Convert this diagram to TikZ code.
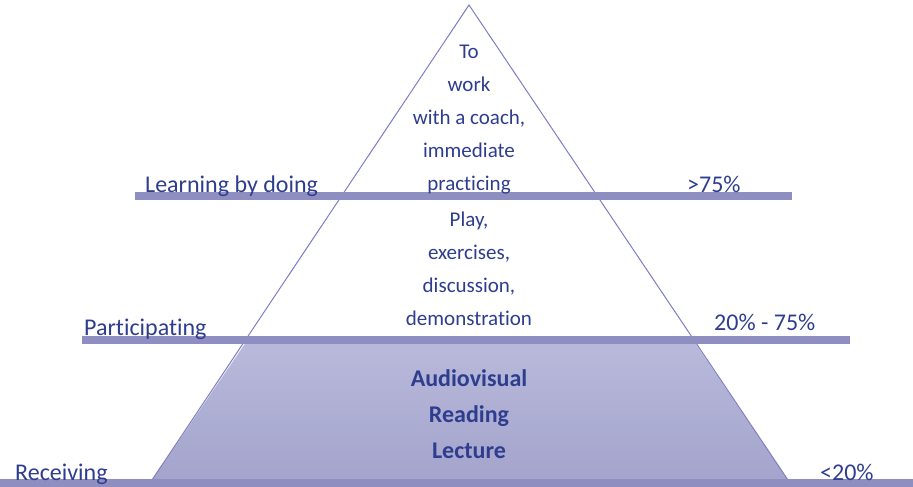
\documentclass[tikz,border=0pt]{standalone}
\usepackage{fontspec}
\setmainfont[Ligatures=NoCommon]{Carlito}
\definecolor{txt}{HTML}{2E3D8E}
\definecolor{barc}{HTML}{8E8EC0}
\definecolor{edgec}{HTML}{7E7EC0}
\definecolor{filltop}{HTML}{B9BADB}
\definecolor{fillbot}{HTML}{A3A3CC}
\tikzset{
  inner/.style={text=txt, font=\fontsize{21}{33}\selectfont, align=center, inner sep=0pt},
  bold/.style={text=txt, font=\fontsize{24}{36}\selectfont\bfseries, align=center, inner sep=0pt},
  side/.style={text=txt, font=\fontsize{24}{28}\selectfont, inner sep=0pt, anchor=base west},
  bar/.style={barc, line width=8pt},
  edge/.style={edgec, line width=1pt}
}
\begin{document}
\begin{tikzpicture}[x=1pt,y=-1pt]
\useasboundingbox (0,0) rectangle (913,487);
% coordinates
\coordinate (apex) at (469,5);
\coordinate (bl) at (150,483);
\coordinate (br) at (790,483);
\coordinate (ml) at (247.5,340);
\coordinate (mr) at (693,340);
% filled trapezoid
\shade[top color=filltop, bottom color=fillbot] (ml) -- (mr) -- (br) -- (bl) -- cycle;
% triangle outline
\draw[edge] (bl) -- (apex) -- (br);
% bars
\coordinate (b1l) at (135,196); \coordinate (b1r) at (792,196);
\coordinate (b2l) at (82,340);  \coordinate (b2r) at (850,340);
\coordinate (b3l) at (0,483);   \coordinate (b3r) at (913,483);
\draw[bar] (b1l) -- (b1r);
\draw[bar] (b2l) -- (b2r);
\draw[bar] (b3l) -- (b3r);
% inner texts (base = baseline of last line)
\node[inner, anchor=base] (t1) at (469,190) {To\\work\\with a coach,\\immediate\\practicing};
\node[inner, anchor=base] (t2) at (469,325) {Play,\\exercises,\\discussion,\\demonstration};
\node[bold, anchor=base] (t3) at (469,458) {Audiovisual\\Reading\\Lecture};
% side labels
\node[side] (l1) at (145,192) {Learning by doing};
\node[side] (l2) at (84,335) {Participating};
\node[side] (l3) at (15,480) {Receiving};
\node[side] (r1) at (687,192) {>75\%};
\node[side] (r2) at (714,330) {20\% - 75\%};
\node[side] (r3) at (820,480) {<20\%};
\end{tikzpicture}
\end{document}
